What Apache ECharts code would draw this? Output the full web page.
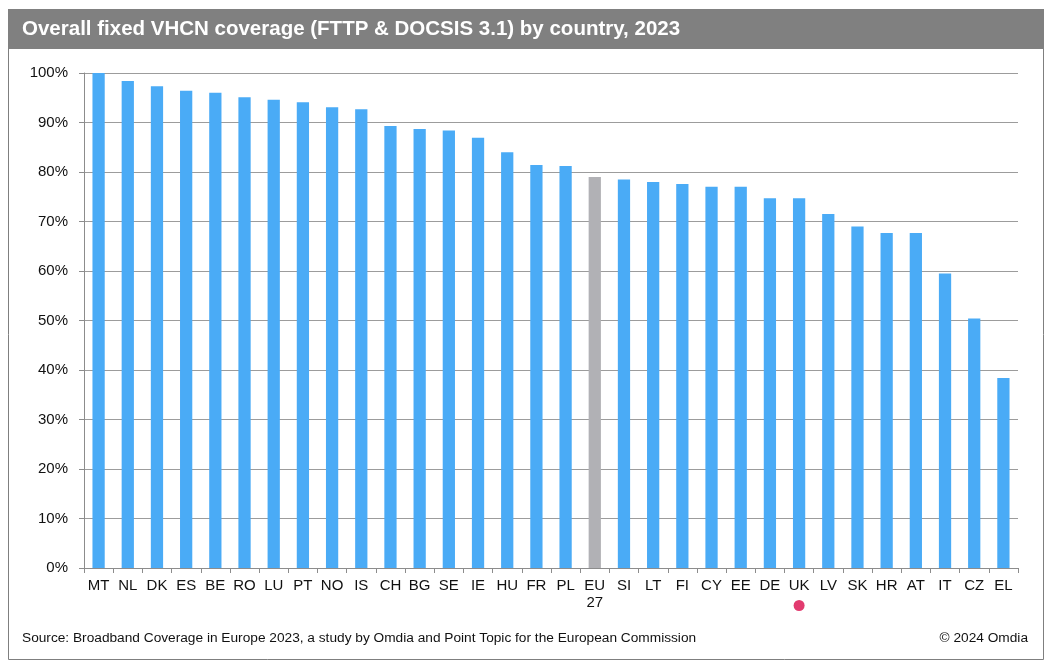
<!DOCTYPE html>
<html>
<head>
<meta charset="utf-8">
<script src="https://cdn.jsdelivr.net/npm/echarts@6/dist/echarts.min.js"></script>
<style>
html,body{margin:0;padding:0;background:#fff;}
#chart{width:1051px;height:668px;}
</style>
</head>
<body>
<div id="chart"></div>
<script>
var categories = ['MT','NL','DK','ES','BE','RO','LU','PT','NO','IS','CH','BG','SE','IE','HU','FR','PL','EU27','SI','LT','FI','CY','EE','DE','UK','LV','SK','HR','AT','IT','CZ','EL'];
var coverage = [100,98.4,97.3,96.4,96.0,95.1,94.6,94.1,93.1,92.7,89.3,88.7,88.4,86.9,84.0,81.4,81.2,79.0,78.5,78.0,77.6,77.0,77.0,74.7,74.7,71.5,69.0,67.7,67.7,59.5,50.4,38.4];
var yTicks = [0,10,20,30,40,50,60,70,80,90,100];
var highlightCategory = 'EU27';
var markedCategory = 'UK';
var titleText = 'Overall fixed VHCN coverage (FTTP & DOCSIS 3.1) by country, 2023';
var sourceText = 'Source: Broadband Coverage in Europe 2023, a study by Omdia and Point Topic for the European Commission';
var copyrightText = '\u00a9 2024 Omdia';

var chart = echarts.init(document.getElementById('chart'));
var font = '"Liberation Sans", Arial, sans-serif';
var barData = coverage.map(function(v, i){
  return {
    value: v,
    itemStyle: { color: categories[i] === highlightCategory ? '#b1b1b5' : '#4aabf6' }
  };
});
chart.setOption({
  animation: false,
  grid: { left: 84, right: 33, top: 73, bottom: 100, containLabel: false },
  xAxis: {
    type: 'category',
    data: categories,
    axisLine: { lineStyle: { color: '#8c8c8c', width: 1 } },
    axisTick: { show: true, length: 5, alignWithLabel: false, lineStyle: { color: '#8c8c8c' } },
    axisLabel: {
      interval: 0, color: '#111', fontFamily: font, fontSize: 15, margin: 9, lineHeight: 17,
      formatter: function(v){
        if (v === 'EU27') return 'EU\n27';
        if (v === markedCategory) return v + '\n{dot|}';
        return v;
      },
      rich: {
        dot: { width: 11, height: 11, borderRadius: 6, backgroundColor: '#e23b6f', verticalAlign: 'bottom' }
      }
    }
  },
  yAxis: {
    type: 'value',
    min: 0, max: 100, interval: 10,
    axisLine: { show: true, lineStyle: { color: '#8c8c8c', width: 1 } },
    axisTick: { show: true, length: 5, lineStyle: { color: '#8c8c8c' } },
    splitLine: { lineStyle: { color: '#9c9c9c', width: 1 } },
    axisLabel: { color: '#111', fontFamily: font, fontSize: 15, margin: 16, formatter: '{value}%' }
  },
  series: [{
    type: 'bar',
    data: barData,
    barWidth: '42%',
    itemStyle: { color: '#4aabf6' }
  }],
  graphic: [
    { type: 'rect', shape: { x: 8.5, y: 9.5, width: 1035, height: 650 }, style: { fill: 'none', stroke: '#7f7f7f', lineWidth: 1 }, z: 0 },
    { type: 'rect', shape: { x: 8, y: 9, width: 1036, height: 40 }, style: { fill: '#808080' }, z: 1 },
    { type: 'text', x: 22, y: 29, style: { text: titleText, fill: '#fff', font: 'bold 20.5px ' + font, verticalAlign: 'middle' }, z: 2 },
    { type: 'text', x: 22, y: 638, style: { text: sourceText, fill: '#111', font: '13.7px ' + font, verticalAlign: 'middle' }, z: 2 },
    { type: 'text', x: 1028, y: 638, style: { text: copyrightText, fill: '#111', font: '13.7px ' + font, verticalAlign: 'middle', align: 'right' }, z: 2 }
  ]
});
</script>
</body>
</html>
